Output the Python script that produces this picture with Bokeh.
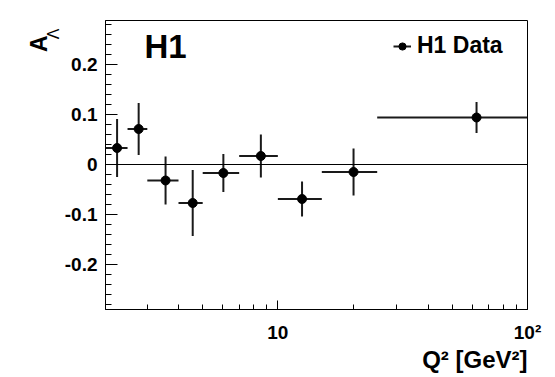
import numpy as np
from bokeh.plotting import figure
from bokeh.models import (FixedTicker, CustomJSTickFormatter, Span, Label,
                          Legend, LegendItem, ColumnDataSource, Title)
from bokeh.embed import file_html
from bokeh.resources import INLINE

# ---- data ----
q2_lo = [2.0, 2.5, 3.0, 4.0, 5.0, 7.0, 10.0, 15.0, 25.0]
q2_hi = [2.5, 3.0, 4.0, 5.0, 7.0, 10.0, 15.0, 25.0, 100.0]
q2 = [2.27, 2.77, 3.55, 4.56, 6.05, 8.55, 12.5, 20.1, 62.5]
a_lambda = [0.033, 0.071, -0.032, -0.077, -0.017, 0.017, -0.069, -0.015, 0.094]
a_err = [0.058, 0.052, 0.048, 0.066, 0.038, 0.043, 0.035, 0.047, 0.031]

x_major = [10, 100]
x_minor = [3, 4, 5, 6, 7, 8, 9, 20, 30, 40, 50, 60, 70, 80, 90]
y_major = [-0.2, -0.1, 0.0, 0.1, 0.2]

FONT = "Liberation Sans"

src = ColumnDataSource(dict(
    x=q2, y=a_lambda, xlo=q2_lo, xhi=q2_hi,
    ylo=[a - e for a, e in zip(a_lambda, a_err)],
    yhi=[a + e for a, e in zip(a_lambda, a_err)],
))

p = figure(width=555, height=377, x_axis_type="log",
           x_range=(2.04, 100), y_range=(-0.29, 0.288),
           output_backend="svg", toolbar_location=None,
           min_border_left=105, min_border_right=28,
           min_border_top=20, min_border_bottom=68)

p.grid.visible = False
p.outline_line_color = "black"
p.outline_line_width = 1
p.background_fill_color = "white"
p.border_fill_color = "white"

# axes
p.xaxis.ticker = FixedTicker(ticks=x_major, minor_ticks=x_minor)
p.xaxis.formatter = CustomJSTickFormatter(
    code="return tick >= 99 ? '10\u00b2' : tick.toFixed(0);")
y_minor = [round(v, 2) for v in np.arange(-0.28, 0.2801, 0.02)]
p.yaxis.ticker = FixedTicker(ticks=y_major, minor_ticks=y_minor)
p.yaxis.formatter = CustomJSTickFormatter(
    code="return Math.abs(tick) < 1e-9 ? '0' : tick.toFixed(1);")

for ax in (p.xaxis[0], p.yaxis[0]):
    ax.axis_line_color = "black"
    ax.major_tick_line_color = "black"
    ax.minor_tick_line_color = "black"
    ax.major_tick_out = 0
    ax.minor_tick_out = 0
    ax.major_label_text_font = FONT
    ax.major_label_text_font_style = "bold"
    ax.major_label_text_font_size = "19px"
    ax.major_label_text_color = "black"

p.xaxis.major_tick_in = 9
p.xaxis.minor_tick_in = 5
p.xaxis.major_label_standoff = 12
p.yaxis.major_tick_in = 12
p.yaxis.minor_tick_in = 6
p.yaxis.major_label_standoff = 8

# zero line
p.add_layout(Span(location=0, dimension="width", line_color="black", line_width=1))

# error bars and markers
hbar = p.segment(x0="xlo", x1="xhi", y0="y", y1="y", source=src,
                 line_color="#1a1a1a", line_width=2)
vbar = p.segment(x0="x", x1="x", y0="ylo", y1="yhi", source=src,
                 line_color="#1a1a1a", line_width=2)
pts = p.scatter(x="x", y="y", source=src, size=9, marker="circle",
                fill_color="black", line_color="black")

legend = Legend(items=[LegendItem(label="H1 Data", renderers=[hbar, pts])],
                location=(288, 250), padding=0, margin=0, spacing=0,
                glyph_width=18, glyph_height=22, label_height=22,
                label_standoff=6, border_line_alpha=0,
                background_fill_alpha=0,
                label_text_font=FONT, label_text_font_style="bold",
                label_text_font_size="23px", label_text_color="black")
p.add_layout(legend)

# "H1" tag inside the frame
p.add_layout(Label(x=2.92, y=0.2354, text="H1", text_font=FONT,
                   text_font_style="bold", text_font_size="33px",
                   text_color="black",
                   text_align="left", text_baseline="alphabetic"))

# axis titles
p.add_layout(Title(text="Q\u00b2 [GeV\u00b2]", align="right", text_font=FONT,
                   text_font_style="bold", text_font_size="24px",
                   text_color="black", standoff=-3, offset=0), "below")
p.add_layout(Title(text="\u039b", align="right", text_font=FONT,
                   text_font_style="normal", text_font_size="16px",
                   text_color="black", standoff=0, offset=8), "left")
p.add_layout(Title(text="A", align="right", text_font=FONT,
                   text_font_style="bold", text_font_size="23px",
                   text_color="black", standoff=-18, offset=15), "left")

open("out.html", "w").write(file_html(p, INLINE))
